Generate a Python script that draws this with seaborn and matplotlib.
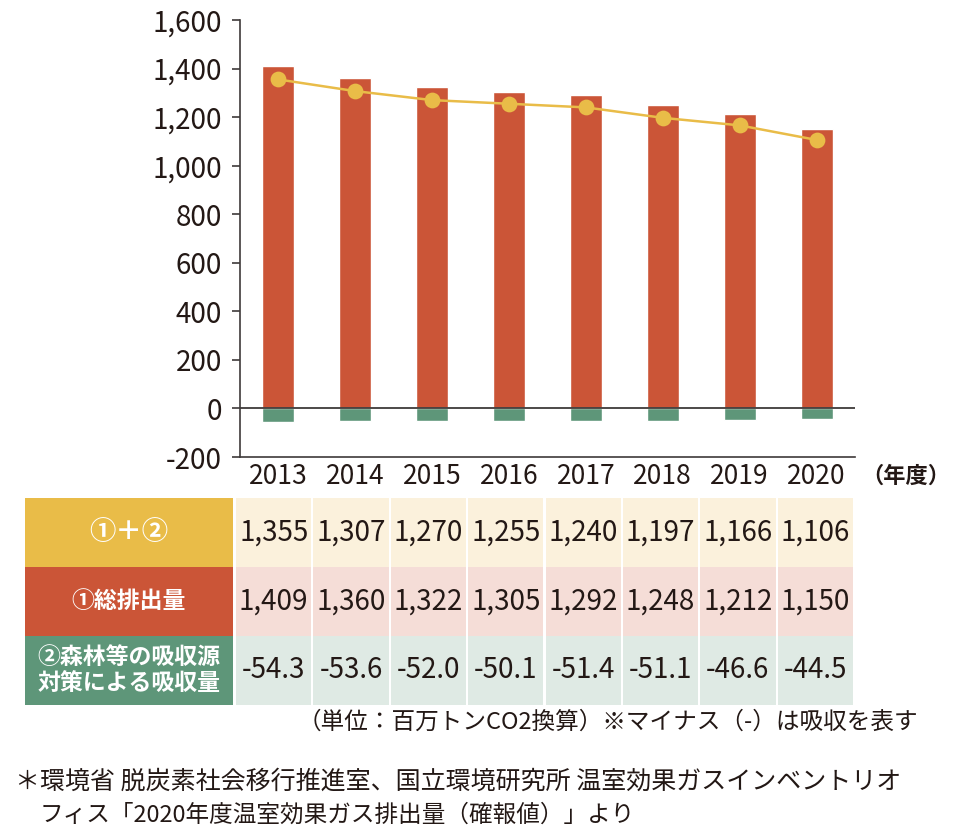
import matplotlib
matplotlib.use('Agg')
import matplotlib.pyplot as plt
from matplotlib.patches import Rectangle
import seaborn as sns
import pandas as pd

# ---------------- data ----------------
years = ['2013', '2014', '2015', '2016', '2017', '2018', '2019', '2020']
net_total = [1355, 1307, 1270, 1255, 1240, 1197, 1166, 1106]          # ①+②
emissions = [1409, 1360, 1322, 1305, 1292, 1248, 1212, 1150]          # ①総排出量
absorption = [-54.3, -53.6, -52.0, -50.1, -51.4, -51.1, -46.6, -44.5]  # ②吸収量
row_labels = ['①＋②', '①総排出量', '②森林等の吸収源\n対策による吸収量']
yticks = [-200, 0, 200, 400, 600, 800, 1000, 1200, 1400, 1600]
year_unit = '（年度）'
unit_note = '（単位：百万トンCO2換算）※マイナス（-）は吸収を表す'
source_line1 = '＊環境省 脱炭素社会移行推進室、国立環境研究所 温室効果ガスインベントリオ'
source_line2 = 'フィス「2020年度温室効果ガス排出量（確報値）」より'

# ---------------- style ----------------
RED = '#CB5537'
GREEN = '#5E9679'
YELLOW = '#E9BC48'
INK = '#231815'
AXC = '#3E3A39'
header_colors = [YELLOW, RED, GREEN]
header_sizes = [19, 16.5, 16.5]
cell_colors = ['#FBF1DC', '#F5DDD7', '#DFEAE4']

sns.set_theme(style='white')
plt.rcParams['font.family'] = ['Noto Sans CJK JP', 'DejaVu Sans']

W, H = 961, 838
fig = plt.figure(figsize=(W / 100, H / 100), dpi=100)
fig.patch.set_facecolor('white')


def fx(px):
    return px / W


def fy(py):
    return 1 - py / H


# ---------------- main chart ----------------
ax = fig.add_axes([fx(240), fy(457), fx(855) - fx(240), fy(20) - fy(457)])
df = pd.DataFrame({'year': years, 'emissions': emissions,
                   'absorption': absorption, 'net': net_total})

sns.barplot(data=df, x='year', y='emissions', color=RED, width=0.415,
            saturation=1, ax=ax, zorder=2)
sns.barplot(data=df, x='year', y='absorption', color=GREEN, width=0.415,
            saturation=1, ax=ax, zorder=2)
sns.pointplot(data=df, x='year', y='net', color=YELLOW, markers='o',
              markersize=10, linewidth=1.8, ax=ax, zorder=4)

ax.set_xlim(-0.5, 7.5)
ax.set_ylim(-200, 1600)
ax.set_yticks(yticks)
ax.set_yticklabels([f'{v:,}' for v in yticks])
ax.axhline(0, color=AXC, lw=1.3, zorder=3)
for s in ['top', 'right']:
    ax.spines[s].set_visible(False)
for s in ['left', 'bottom']:
    ax.spines[s].set_color(AXC)
    ax.spines[s].set_linewidth(1.2)
ax.tick_params(axis='y', direction='out', length=5.8, width=1.2, color=AXC,
               labelsize=20, labelcolor=INK, pad=7, left=True)
ax.tick_params(axis='x', length=0, labelsize=19, labelcolor=INK, pad=4)
ax.set_xlabel('')
ax.set_ylabel('')
ax.grid(False)
ax.annotate(year_unit, xy=(1, 0), xycoords='axes fraction', xytext=(6, -19),
            textcoords='offset pixels', ha='left', va='center',
            fontsize=16, fontweight='bold', color=INK)

# ---------------- table ----------------
tab = fig.add_axes([fx(235), fy(705), fx(854) - fx(235), fy(497.7) - fy(705)])
tab.set_xlim(-0.5, 7.5)
tab.set_ylim(3, 0)
tab.axis('off')
unit = (854 - 235) / 8
hx0 = (25 - 235) / unit - 0.5
hx1 = (232.7 - 235) / unit - 0.5
gap = 1.1 / unit

rows = [net_total, emissions, absorption]
for r, vals in enumerate(rows):
    tab.add_patch(Rectangle((hx0, r), hx1 - hx0, 1, facecolor=header_colors[r],
                            edgecolor='none', clip_on=False))
    tab.text((hx0 + hx1) / 2, r + 0.5, row_labels[r], ha='center', va='center',
             color='white', fontsize=header_sizes[r], fontweight='bold',
             linespacing=1.15, clip_on=False)
    for i, v in enumerate(vals):
        tab.add_patch(Rectangle((i - 0.5 + gap, r), 1 - 2 * gap, 1,
                                facecolor=cell_colors[r], edgecolor='none',
                                clip_on=False))
        label = f'{v:.1f}' if r == 2 else f'{v:,}'
        tab.text(i, r + 0.5, label, ha='center', va='center', color=INK,
                 fontsize=20, clip_on=False)

# ---------------- notes ----------------
fig.text(fx(918), fy(722), unit_note, ha='right', va='center', fontsize=17,
         color=INK)
fig.text(fx(15), fy(782), source_line1, ha='left', va='center', fontsize=18,
         color=INK)
fig.text(fx(40), fy(815), source_line2, ha='left', va='center', fontsize=17,
         color=INK)

fig.savefig('out.png', dpi=100, facecolor='white')
